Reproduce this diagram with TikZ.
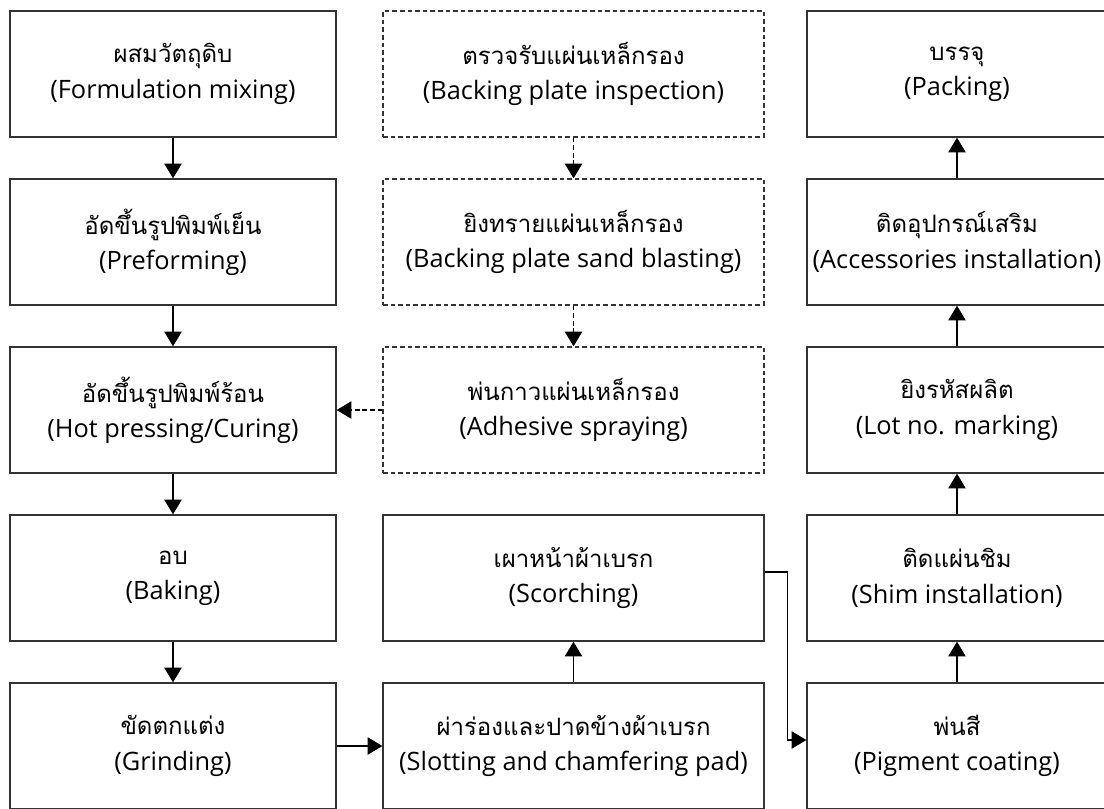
\documentclass[tikz,border=0pt]{standalone}
\usepackage{fontspec}
\setmainfont{Open Sans}
\newfontfamily\thaifont[Script=Thai]{Loma}
\usetikzlibrary{arrows.meta}
\newcommand\pstep[2]{{\thaifont\fontsize{18}{26}\selectfont #1}\\#2}
\tikzset{
  proc/.style={draw=black!80, line width=1pt, align=center, inner sep=0pt,
    minimum height=94.5pt, font=\fontsize{19}{26.5}\selectfont},
  leftbox/.style={proc, minimum width=244.5pt},
  midbox/.style={proc, minimum width=285.75pt},
  platebox/.style={midbox, dashed, dash pattern=on 3.5pt off 2.2pt},
  rightbox/.style={proc, minimum width=225pt},
  flow/.style={-{Triangle[length=11pt,width=13pt]}, line width=0.8pt},
  plateflow/.style={flow, dash pattern=on 3.5pt off 2.2pt},
}
\begin{document}
\begin{tikzpicture}[x=0.75pt, y=-0.75pt]
  \useasboundingbox (0,0) rectangle (1104,808);
  % Friction material line
  \node[leftbox] (mix) at (173,74) {\pstep{ผสมวัตถุดิบ}{(Formulation mixing)}};
  \node[leftbox] (preform) at (173,242) {\pstep{อัดขึ้นรูปพิมพ์เย็น}{(Preforming)}};
  \node[leftbox] (hotpress) at (173,410) {\pstep{อัดขึ้นรูปพิมพ์ร้อน}{(Hot pressing/Curing)}};
  \node[leftbox] (bake) at (173,578) {\pstep{อบ}{(Baking)}};
  \node[leftbox] (grind) at (173,746) {\pstep{ขัดตกแต่ง}{(Grinding)}};
  % Backing plate line
  \node[platebox] (inspect) at (573.5,74) {\pstep{ตรวจรับแผ่นเหล็กรอง}{(Backing plate inspection)}};
  \node[platebox] (blast) at (573.5,242) {\pstep{ยิงทรายแผ่นเหล็กรอง}{(Backing plate sand blasting)}};
  \node[platebox] (spray) at (573.5,410) {\pstep{พ่นกาวแผ่นเหล็กรอง}{(Adhesive spraying)}};
  \node[midbox] (scorch) at (573.5,578) {\pstep{เผาหน้าผ้าเบรก}{(Scorching)}};
  \node[midbox] (slot) at (573.5,746) {\pstep{ผ่าร่องและปาดข้างผ้าเบรก}{(Slotting and chamfering pad)}};
  % Finishing line
  \node[rightbox] (pack) at (957,74) {\pstep{บรรจุ}{(Packing)}};
  \node[rightbox] (accessory) at (957,242) {\pstep{ติดอุปกรณ์เสริม}{(Accessories installation)}};
  \node[rightbox] (lotno) at (957,410) {\pstep{ยิงรหัสผลิต}{(Lot no. marking)}};
  \node[rightbox] (shim) at (957,578) {\pstep{ติดแผ่นชิม}{(Shim installation)}};
  \node[rightbox] (coat) at (957,746) {\pstep{พ่นสี}{(Pigment coating)}};
  % Arrows
  \draw[flow] (mix) -- (preform);
  \draw[flow] (preform) -- (hotpress);
  \draw[flow] (hotpress) -- (bake);
  \draw[flow] (bake) -- (grind);
  \draw[flow] (grind) -- (slot);
  \draw[flow] (slot) -- (scorch);
  \draw[plateflow] (inspect) -- (blast);
  \draw[plateflow] (blast) -- (spray);
  \draw[plateflow] (spray) -- (hotpress);
  \draw[flow] ([yshift=4.5pt]scorch.east) -- ++(23,0) |- ([yshift=4.5pt]coat.west);
  \draw[flow] (coat) -- (shim);
  \draw[flow] (shim) -- (lotno);
  \draw[flow] (lotno) -- (accessory);
  \draw[flow] (accessory) -- (pack);
\end{tikzpicture}
\end{document}
